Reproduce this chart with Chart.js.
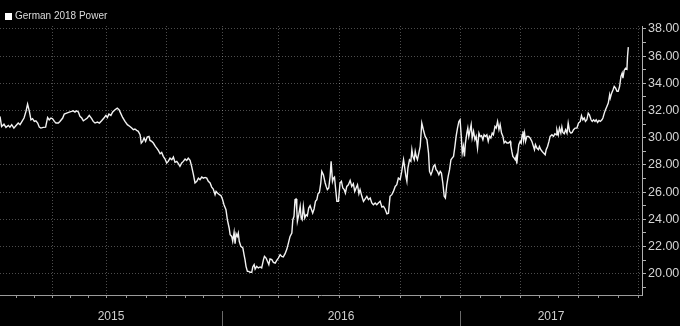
<!DOCTYPE html>
<html>
<head>
<meta charset="utf-8">
<script src="https://cdn.jsdelivr.net/npm/chart.js@4"></script>
<style>
  html, body { margin: 0; padding: 0; background: #000; }
  #wrap { width: 680px; height: 326px; position: relative; }
</style>
</head>
<body>
<div id="wrap"><canvas id="powerChart"></canvas></div>
<script>
const seriesName = 'German 2018 Power';

// x values are months since 1 Jan 2015
const tMonths = [
    0.81,0.89,1.01,1.11,1.23,1.31,1.40,1.51,1.61,1.73,1.82,1.92,2.02,2.12,2.20,2.29,2.37,2.45,2.54,2.62,
    2.71,2.79,2.87,2.99,3.11,3.21,3.29,3.38,3.46,3.55,3.63,3.75,3.83,3.97,4.05,4.17,4.30,4.42,4.50,4.59,
    4.67,4.76,4.84,4.93,5.01,5.09,5.21,5.31,5.43,5.51,5.60,5.72,5.82,5.93,6.05,6.15,6.22,6.30,6.40,6.49,
    6.61,6.72,6.81,6.89,6.99,7.11,7.23,
    7.36,7.45,7.53,7.61,7.70,7.78,7.87,7.93,8.00,8.07,8.15,8.23,8.32,8.37,8.46,8.54,8.64,8.71,8.79,8.88,
    8.96,9.04,9.13,9.21,9.29,9.38,9.47,9.55,9.63,9.72,9.80,9.88,9.97,10.05,10.14,10.22,10.30,10.39,10.47,10.56,
    10.64,10.73,10.81,10.89,10.98,11.06,11.15,11.23,11.31,11.40,11.48,11.56,11.65,11.70,11.77,11.87,11.95,12.02,12.10,12.20,
    12.27,12.36,12.41,12.49,12.54,12.61,12.66,12.71,12.77,12.82,12.87,12.95,13.05,13.11,13.16,13.21,13.28,13.35,13.41,
    13.50,13.55,13.62,13.67,13.75,13.83,13.92,14.00,14.09,14.14,14.22,14.29,14.36,14.42,14.51,14.59,14.68,14.76,14.84,14.93,
    15.01,15.09,15.18,15.27,15.35,15.43,15.52,15.57,15.63,15.68,15.73,15.77,15.80,15.87,15.94,15.99,16.04,16.10,16.17,16.24,
    16.30,16.37,16.44,16.51,16.57,16.64,16.71,16.78,16.84,16.91,16.98,17.03,17.11,17.20,17.25,17.31,17.38,17.45,17.50,17.57,
    17.62,17.67,17.74,17.79,17.87,17.95,18.02,18.09,18.16,18.22,18.29,18.37,18.46,18.54,18.62,18.69,18.76,18.83,18.90,18.96,
    19.05,19.13,19.21,19.30,19.38,19.47,19.55,19.63,19.72,19.80,19.88,19.97,
    20.06,20.14,20.22,20.31,20.39,20.47,20.56,20.64,20.73,20.81,20.89,20.98,21.06,21.15,21.20,21.27,21.32,21.37,21.45,21.52,
    21.57,21.62,21.69,21.74,21.79,21.85,21.92,21.99,22.07,22.15,22.24,22.33,22.41,22.46,22.53,22.59,22.66,22.73,22.79,22.86,
    22.93,23.00,23.06,23.13,23.20,23.26,23.33,23.40,23.47,23.54,23.60,23.67,23.74,23.80,23.87,23.94,24.00,24.06,24.11,24.17,
    24.22,24.27,24.34,24.39,24.44,24.51,24.56,24.61,24.68,24.75,24.81,24.88,24.95,25.01,25.08,25.15,25.21,25.28,25.35,25.42,
    25.48,25.55,25.62,25.68,25.76,25.82,25.89,25.96,26.02,26.09,26.16,26.22,26.29,26.36,26.44,26.53,
    26.56,26.61,26.66,26.73,26.78,26.83,26.86,26.91,26.96,27.03,27.08,27.13,27.17,27.20,27.25,27.30,27.37,27.45,27.53,27.62,
    27.70,27.75,27.80,27.87,27.95,28.00,28.07,28.14,28.21,28.29,28.34,28.41,28.48,28.54,28.63,28.71,28.78,28.85,28.88,28.95,
    29.01,29.08,29.13,29.18,29.25,29.32,29.39,29.45,29.52,29.59,29.65,29.72,29.80,29.89,29.97,30.06,30.12,30.19,30.26,30.32,
    30.39,30.46,30.52,30.60,30.66,30.73,30.80,30.86,30.93,31.00,31.07,31.15,31.20,31.27,31.33,31.40,31.47,31.54,31.57,31.64,
    31.71,31.77,31.84,31.91,31.97,32.04,32.11,32.17,32.21,32.27,32.34,32.41,32.44,32.48
];

const price = [
    31.57,30.83,31.00,30.76,30.91,30.78,30.96,30.71,30.88,31.08,30.96,31.20,31.45,31.94,32.48,31.94,31.32,31.40,31.20,31.25,
    31.08,30.78,30.71,30.76,30.78,31.49,31.32,31.45,31.40,31.20,31.08,31.08,31.20,31.45,31.74,31.81,31.89,31.94,31.98,31.89,
    31.98,31.89,31.57,31.45,31.25,31.32,31.45,31.64,31.40,31.20,31.08,31.15,31.08,31.25,31.45,31.64,31.49,31.74,31.64,31.89,
    32.06,32.18,32.06,31.81,31.49,31.20,30.96,
    30.83,30.71,30.59,30.64,30.54,30.47,30.22,29.61,29.73,29.98,29.73,30.05,30.10,29.80,29.73,29.61,29.36,29.24,29.07,28.82,
    28.92,28.63,28.43,28.14,28.26,28.50,28.38,28.58,28.19,28.26,28.09,27.89,28.14,28.26,28.43,28.33,28.50,28.33,27.89,27.28,
    26.67,26.79,27.03,26.91,27.11,27.03,27.08,27.03,26.79,26.67,26.37,26.23,25.81,26.05,25.93,25.81,25.74,25.49,25.07,24.71,
    23.97,23.36,22.87,22.74,22.38,23.04,22.21,22.94,22.74,22.99,22.38,22.01,21.89,21.40,21.03,20.54,20.17,20.17,20.10,
    20.10,20.49,20.66,20.34,20.54,20.42,20.49,20.42,21.03,21.27,21.15,20.91,20.66,21.08,21.03,20.83,20.78,20.98,21.15,21.40,
    21.27,21.23,21.47,21.81,22.26,22.74,22.99,23.97,24.22,25.44,25.49,24.71,23.85,24.34,24.95,24.09,23.97,24.95,24.09,24.34,
    24.26,24.83,25.00,24.71,24.46,24.76,25.32,25.44,25.88,25.98,26.67,27.52,27.28,26.67,26.42,26.18,26.30,27.16,28.26,26.79,
    27.03,27.11,26.05,25.32,25.32,26.67,26.79,26.30,26.18,25.93,26.42,26.54,26.86,26.42,26.62,26.05,26.30,26.54,25.88,26.18,
    25.69,25.32,25.49,25.69,25.44,25.56,25.20,25.07,25.20,25.07,25.20,25.32,
    24.90,24.95,24.76,24.40,24.45,25.69,25.81,26.05,26.42,26.54,27.03,26.91,27.52,28.38,27.89,27.16,26.79,27.77,28.38,28.26,
    29.12,28.63,28.38,28.99,28.63,28.38,28.87,29.36,31.08,30.59,30.10,29.85,28.87,27.52,27.28,27.52,27.89,28.01,27.65,27.52,
    27.28,27.52,27.40,26.67,25.69,25.56,26.54,27.16,27.65,28.38,28.50,28.63,29.36,30.10,30.71,31.20,31.32,30.10,28.87,29.36,
    28.63,29.61,30.34,30.71,30.10,30.59,30.96,29.98,30.47,29.85,30.10,29.24,30.34,30.10,30.15,29.85,30.22,30.10,30.22,29.73,
    30.10,29.98,30.34,30.22,30.83,30.71,31.20,30.59,30.96,30.34,30.10,29.61,29.73,29.61,29.61,29.73,
    29.41,28.99,28.63,28.50,28.38,28.63,28.09,28.87,29.49,29.73,29.61,30.22,30.47,29.85,30.34,29.73,30.10,30.10,29.98,29.73,
    29.36,29.12,29.49,29.24,29.12,29.36,29.12,28.99,28.87,28.75,29.12,29.36,29.73,30.10,30.22,30.10,30.29,30.22,30.59,30.22,
    30.71,30.34,30.78,30.39,30.29,30.59,30.34,31.08,30.47,30.34,30.39,30.59,30.71,30.71,31.08,31.20,31.62,31.32,31.45,31.20,
    31.32,31.81,31.69,31.32,31.20,31.32,31.20,31.32,31.13,31.27,31.20,31.32,31.45,31.81,32.06,32.30,32.55,33.16,32.92,33.28,
    33.53,33.77,33.65,33.41,33.41,33.77,34.51,34.76,34.39,34.95,35.12,35.05,35.98,36.67
];

const years = ['2015', '2016', '2017'];
const yearStarts = [0, 12, 24];
// quarter gridlines (trading-day axis, so not exactly evenly spaced)
const gridMonths = [3.48, 6.2, 9.21, 12, 14.84, 17.9, 20.98, 24, 27.03, 29.95, 32.97];
const xMax = 33.17;
const yMin = 18.43, yMax = 38.22;
const yTicks = [19,20,21,22,23,24,25,26,27,28,29,30,31,32,33,34,35,36,37,38];

const gridColor = 'rgba(255,255,255,0.3)';
const font = '"Liberation Sans", Arial, sans-serif';

// monthly tick marks between the quarter lines
const xTicks = [];
const firstStep = (gridMonths[1] - gridMonths[0]) / 3;
xTicks.push({ value: gridMonths[0] - 2 * firstStep }, { value: gridMonths[0] - firstStep });
gridMonths.forEach((g, i) => {
    xTicks.push({ value: g, q: true });
    if (i < gridMonths.length - 1) {
        const s = (gridMonths[i + 1] - g) / 3;
        xTicks.push({ value: g + s }, { value: g + 2 * s });
    }
});

const decorations = {
    id: 'decorations',
    beforeDraw(chart) {
        const { ctx, width, height } = chart;
        ctx.save();
        ctx.fillStyle = '#000';
        ctx.fillRect(0, 0, width, height);
        ctx.restore();
    },
    afterDraw(chart) {
        const { ctx, chartArea, scales } = chart;
        const x = scales.x;
        ctx.save();

        // legend
        ctx.fillStyle = '#fff';
        ctx.fillRect(5, 13, 7, 7);
        ctx.fillStyle = '#dcdcdc';
        ctx.font = '10px ' + font;
        ctx.textBaseline = 'middle';
        ctx.textAlign = 'left';
        ctx.fillText(chart.data.datasets[0].label, 15, 16.5);

        // year labels + separators
        const edges = yearStarts.map(v => Math.max(x.getPixelForValue(v), chartArea.left));
        edges.push(chartArea.right);
        ctx.font = '12px ' + font;
        ctx.textAlign = 'center';
        ctx.fillStyle = '#cfcfcf';
        ctx.strokeStyle = '#6a6a6a';
        ctx.lineWidth = 1;
        years.forEach((yr, i) => {
            const a = edges[i], b = edges[i + 1];
            ctx.fillText(yr, (a + b) / 2, 317);
            if (i > 0) {
                const px = Math.round(a) + 0.5;
                ctx.beginPath();
                ctx.moveTo(px, 311);
                ctx.lineTo(px, 326);
                ctx.stroke();
            }
        });
        ctx.restore();
    }
};

const ctx = document.getElementById('powerChart').getContext('2d');

let powerChart = new Chart(ctx, {
    type: 'line',
    data: {
        datasets: [{
            label: seriesName,
            data: tMonths.map((t, i) => ({ x: t, y: price[i] })),
            borderColor: '#f2f2f2',
            borderWidth: 1.4,
            pointRadius: 0,
            tension: 0,
            fill: false
        }]
    },
    options: {
        animation: false,
        responsive: true,
        maintainAspectRatio: false,
        devicePixelRatio: 1,
        layout: { padding: { top: 26, left: 0, right: 0, bottom: 0 } },
        plugins: {
            legend: { display: false },
            tooltip: { enabled: false }
        },
        scales: {
            x: {
                type: 'linear',
                min: tMonths[0],
                max: xMax,
                afterBuildTicks: scale => { scale.ticks = xTicks.map(t => ({ ...t })); },
                afterFit: scale => { scale.height = 31; },
                grid: {
                    color: c => (c.tick && c.tick.q) ? gridColor : 'transparent',
                    tickColor: '#9a9a9a',
                    tickLength: 3
                },
                border: { color: '#9a9a9a', width: 1, dash: [1, 2] },
                ticks: { display: false }
            },
            y: {
                position: 'right',
                min: yMin,
                max: yMax,
                afterBuildTicks: scale => { scale.ticks = yTicks.map(v => ({ value: v })); },
                afterFit: scale => { scale.width = 38; },
                grid: {
                    color: c => (c.tick && c.tick.value % 2 === 0) ? gridColor : 'transparent',
                    tickColor: '#b0b0b0',
                    tickLength: 4
                },
                border: { color: '#b0b0b0', width: 1, dash: [1, 2] },
                ticks: {
                    autoSkip: false,
                    padding: 2,
                    color: '#d4d4d4',
                    font: { family: font, size: 12.5 },
                    callback: v => (v % 2 === 0 ? v.toFixed(2) : '')
                }
            }
        }
    },
    plugins: [decorations]
});
</script>
</body>
</html>
